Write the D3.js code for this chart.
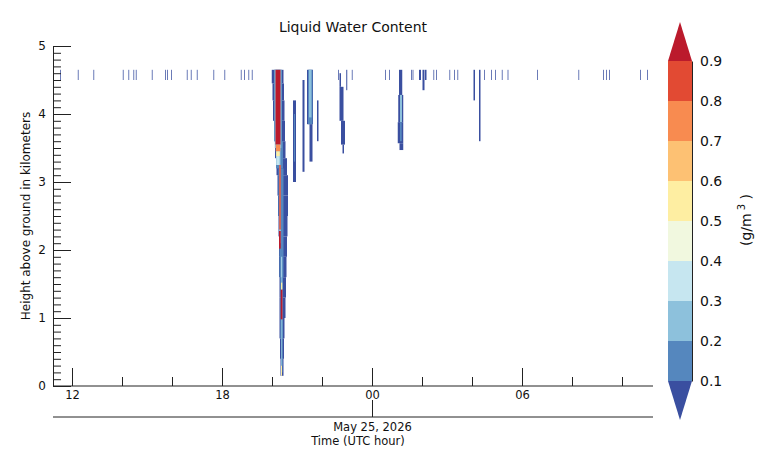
<!DOCTYPE html>
<html>
<head>
<meta charset="utf-8">
<script src="https://cdn.jsdelivr.net/npm/d3@7"></script>
<style>
  html, body { margin: 0; padding: 0; background: #fff; }
  svg { font-family: "DejaVu Sans", sans-serif; }
</style>
</head>
<body>
<svg id="chart" width="773" height="467"></svg>
<script>
// ---------------- DATA ----------------
// time in hours since 2026-05-24 00:00 UTC (24 = 00 UTC May 25), height in km, LWC in g/m^3
const timeDomain = [11.24, 35.24];
const heightDomain = [0, 5];
const majorTimeTicks = [12, 18, 24, 30];
const minorTimeTicks = [14, 16, 20, 22, 26, 28, 32, 34];
const heightTicks = [0, 1, 2, 3, 4, 5];
const dateLabel = "May 25, 2026";
const colorLevels = [0.1, 0.2, 0.3, 0.4, 0.5, 0.6, 0.7, 0.8, 0.9];
const colorList = ["#3a4fa0", "#5587be", "#8dc1dc", "#c6e6f0", "#f1f8df",
                   "#feeea2", "#fdc173", "#f88b50", "#e24a33", "#bb1a2c"];

// thin cloud streaks near 4.5-4.65 km: [time]
const topStreakTimes = [11.52, 12.23, 12.85, 14.03, 14.25, 14.45, 14.55, 15.19, 15.72, 15.80, 15.96,
  16.59, 16.75, 16.99, 17.65, 18.09, 18.75, 18.88, 19.05, 19.19, 22.64, 23.19, 24.52, 24.68,
  25.56, 25.62, 26.45, 26.56, 27.09, 27.28, 27.41, 28.48, 28.76, 28.92, 29.19, 29.42,
  30.60, 32.25, 33.24, 33.36, 33.48, 34.72, 35.00];
const topStreakBase = 4.5, topStreakTop = 4.65, topStreakLWC = 0.05, topStreakDur = 0.04;

// main convective column cells: [t0, t1, zBottom, zTop, LWC]
const mainEnvelope = [
  [19.99, 20.46, 4.45, 4.65, 0.05], [20.02, 20.48, 4.2, 4.45, 0.05], [20.04, 20.50, 3.9, 4.2, 0.05],
  [20.08, 20.52, 3.6, 3.9, 0.05], [20.12, 20.54, 3.35, 3.6, 0.05], [20.18, 20.60, 3.1, 3.35, 0.05],
  [20.22, 20.64, 2.8, 3.1, 0.05], [20.24, 20.64, 2.5, 2.8, 0.05], [20.26, 20.62, 2.2, 2.5, 0.05],
  [20.28, 20.60, 1.9, 2.2, 0.05], [20.28, 20.58, 1.6, 1.9, 0.05], [20.30, 20.56, 1.3, 1.6, 0.05],
  [20.30, 20.54, 1.0, 1.3, 0.05], [20.30, 20.50, 0.7, 1.0, 0.05], [20.32, 20.48, 0.4, 0.7, 0.05],
  [20.34, 20.46, 0.15, 0.4, 0.05]
];
const mainInner = [
  [20.08, 20.40, 3.6, 4.65, 0.15], [20.16, 20.44, 3.2, 3.6, 0.15], [20.26, 20.46, 2.5, 3.2, 0.15],
  [20.30, 20.46, 1.6, 2.5, 0.15], [20.33, 20.44, 0.7, 1.6, 0.15], [20.36, 20.42, 0.2, 0.7, 0.15],
  [20.11, 20.37, 3.5, 4.65, 0.25], [20.16, 20.34, 3.25, 3.5, 0.25], [20.28, 20.36, 2.1, 3.25, 0.25],
  [20.37, 20.41, 0.3, 1.9, 0.25], [20.18, 20.30, 3.25, 3.38, 0.35], [20.38, 20.40, 1.6, 1.9, 0.35]
];
const mainCore = [
  [20.14, 20.34, 3.55, 4.65, 0.95], [20.15, 20.33, 3.45, 3.55, 0.75], [20.17, 20.31, 3.38, 3.45, 0.55],
  [20.29, 20.35, 2.3, 3.25, 0.85], [20.28, 20.35, 2.02, 2.28, 0.95], [20.35, 20.42, 0.98, 1.42, 0.95],
  [20.36, 20.41, 1.42, 1.52, 0.55], [20.36, 20.40, 0.15, 0.3, 0.55]
];
// other, weaker columns: [t0, t1, zBottom, zTop, LWC]
const otherColumns = [
  [20.84, 20.96, 3.0, 4.2, 0.05], [20.88, 20.92, 3.3, 4.0, 0.15],
  [21.22, 21.30, 3.15, 4.5, 0.05],
  [21.40, 21.64, 3.85, 4.65, 0.05], [21.44, 21.62, 3.85, 4.65, 0.15], [21.48, 21.58, 3.95, 4.65, 0.25],
  [21.50, 21.62, 3.3, 3.85, 0.05],
  [21.80, 21.86, 3.6, 4.2, 0.05],
  [22.70, 22.76, 4.4, 4.6, 0.05], [22.70, 22.86, 3.9, 4.4, 0.05], [22.76, 22.92, 3.55, 3.9, 0.05],
  [22.82, 22.88, 3.42, 3.55, 0.05], [22.97, 23.01, 4.35, 4.65, 0.05],
  [25.08, 25.21, 4.28, 4.65, 0.05], [25.05, 25.25, 3.88, 4.28, 0.05], [25.12, 25.20, 3.88, 4.28, 0.2],
  [25.03, 25.25, 3.57, 3.88, 0.05], [25.12, 25.19, 3.6, 3.88, 0.15], [25.10, 25.25, 3.47, 3.57, 0.05],
  [25.88, 25.96, 4.5, 4.65, 0.05], [26.02, 26.10, 4.35, 4.65, 0.05], [26.12, 26.18, 4.5, 4.65, 0.05],
  [28.06, 28.12, 4.2, 4.65, 0.05], [28.28, 28.34, 3.6, 4.65, 0.05]
];

// ---------------- LAYOUT ----------------
const svg = d3.select("#chart");
const axisColor = "#222";
const x = d3.scaleLinear().domain(timeDomain).range([53, 653]);
const y = d3.scaleLinear().domain(heightDomain).range([386, 46]);
const color = d3.scaleThreshold().domain(colorLevels).range(colorList);

// cells
svg.append("g").attr("opacity", 0.75).selectAll("rect")
  .data(topStreakTimes.map(t => [t, t + topStreakDur, topStreakBase, topStreakTop, topStreakLWC]))
  .join("rect")
  .attr("x", d => x(d[0]))
  .attr("width", d => x(d[1]) - x(d[0]))
  .attr("y", d => y(d[3]))
  .attr("height", d => y(d[2]) - y(d[3]))
  .attr("fill", d => color(d[4]));

const cells = [].concat(mainEnvelope, mainInner, mainCore, otherColumns);
svg.append("g").selectAll("rect").data(cells).join("rect")
  .attr("x", d => x(d[0]))
  .attr("width", d => x(d[1]) - x(d[0]))
  .attr("y", d => y(d[3]))
  .attr("height", d => y(d[2]) - y(d[3]))
  .attr("fill", d => color(d[4]));

const pad2 = d => String(d % 24).padStart(2, "0");

// x axis (major)
const gx = svg.append("g").attr("transform", "translate(0,386)")
  .call(d3.axisBottom(x).tickValues(majorTimeTicks).tickSize(-18).tickSizeOuter(0)
    .tickPadding(5).tickFormat(pad2));
gx.select(".domain").attr("d", "M53,0H653");
// x minor
svg.append("g").attr("transform", "translate(0,386)")
  .call(d3.axisBottom(x).tickValues(minorTimeTicks).tickSize(-9).tickFormat(""))
  .call(g => g.select(".domain").remove());

// y axis
const gy = svg.append("g").attr("transform", "translate(53,0)")
  .call(d3.axisLeft(y).tickValues(heightTicks).tickSize(-18).tickSizeOuter(0).tickPadding(7)
    .tickFormat(d3.format("d")));
const minorH = d3.range(1, 50).filter(i => i % 10 !== 0).map(i => i / 10);
svg.append("g").attr("transform", "translate(53,0)")
  .call(d3.axisLeft(y).tickValues(minorH).tickSize(-8).tickFormat(""))
  .call(g => g.select(".domain").remove());

svg.selectAll(".tick line, .domain").attr("stroke", axisColor);
gx.selectAll("text").attr("font-size", 11.5).attr("fill", "#111").attr("font-family", "DejaVu Sans");
gy.selectAll("text").attr("font-size", 12).attr("fill", "#111").attr("font-family", "DejaVu Sans");

// date axis
const gd = svg.append("g").attr("transform", "translate(0,417)")
  .call(d3.axisBottom(x).tickValues([24]).tickSize(-17).tickSizeOuter(0).tickPadding(6)
    .tickFormat(() => dateLabel));
gd.select(".domain").attr("d", "M53,0H653").attr("stroke", axisColor);
gd.selectAll(".tick line").attr("stroke", axisColor);
gd.selectAll("text").attr("font-size", 11.5).attr("fill", "#111").attr("font-family", "DejaVu Sans");

svg.append("text").attr("x", 358).attr("y", 445).attr("text-anchor", "middle")
  .attr("font-size", 11.5).attr("fill", "#111").text("Time (UTC hour)");

svg.append("text").attr("transform", "translate(30,216) rotate(-90)").attr("text-anchor", "middle")
  .attr("font-size", 12).attr("fill", "#111").text("Height above ground in kilometers");

svg.append("text").attr("x", 353).attr("y", 32).attr("text-anchor", "middle")
  .attr("font-size", 14).attr("fill", "#111").text("Liquid Water Content");

// ---------------- COLORBAR ----------------
const cbx0 = 668, cbx1 = 692;
const cy = d3.scaleLinear().domain([0.1, 0.9]).range([381, 61]);
const bins = colorLevels.slice(0, -1);
const cb = svg.append("g");
cb.selectAll("rect").data(bins).join("rect")
  .attr("x", cbx0).attr("width", cbx1 - cbx0)
  .attr("y", d => cy(d + 0.1)).attr("height", d => cy(d) - cy(d + 0.1))
  .attr("fill", d => color(d + 0.05));
cb.append("path").attr("d", `M${cbx0},${cy(0.9)}L${(cbx0 + cbx1) / 2},22L${cbx1},${cy(0.9)}Z`)
  .attr("fill", color(0.95));
cb.append("path").attr("d", `M${cbx0},${cy(0.1)}L${(cbx0 + cbx1) / 2},420L${cbx1},${cy(0.1)}Z`)
  .attr("fill", color(0.05));
const gcb = svg.append("g").attr("transform", `translate(${cbx1},0)`)
  .call(d3.axisRight(cy).tickValues(colorLevels).tickSize(0).tickSizeOuter(0).tickPadding(8)
    .tickFormat(d3.format(".1f")));
gcb.select(".domain").attr("stroke", axisColor);
gcb.selectAll("text").attr("font-size", 14).attr("fill", "#111").attr("font-family", "DejaVu Sans");

const unit = svg.append("text").attr("transform", "translate(751,220) rotate(-90)")
  .attr("text-anchor", "middle").attr("font-size", 14).attr("fill", "#111");
unit.append("tspan").text("(g/m");
unit.append("tspan").attr("dy", -6).attr("font-size", 10).text(" 3");
unit.append("tspan").attr("dy", 6).text(" )");
</script>
</body>
</html>
